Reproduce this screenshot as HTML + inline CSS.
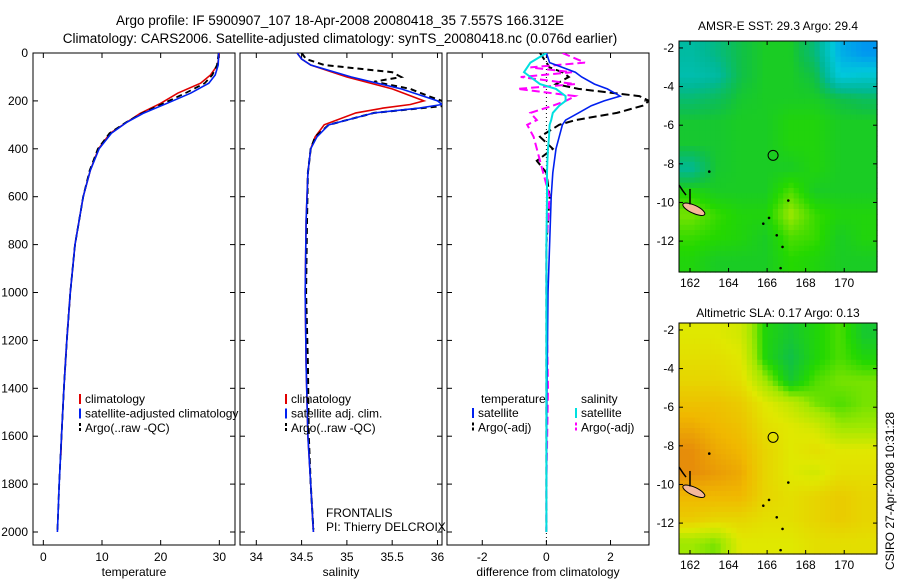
<!DOCTYPE html>
<html><head><meta charset="utf-8">
<style>
body{margin:0;background:#fff;}
svg{display:block;font-family:"Liberation Sans",sans-serif;}
text{font-size:12px;fill:#000;}
</style></head>
<body>
<svg id="fig" width="900" height="580" viewBox="0 0 900 580">
<text x="340" y="25" text-anchor="middle" style="font-size:13.5px">Argo profile: IF 5900907_107 18-Apr-2008 20080418_35 7.557S 166.312E</text>
<text x="340" y="43" text-anchor="middle" style="font-size:13.5px">Climatology: CARS2006. Satellite-adjusted climatology: synTS_20080418.nc (0.076d earlier)</text>
<text x="778" y="30" text-anchor="middle">AMSR-E SST: 29.3 Argo: 29.4</text>
<text x="778" y="317" text-anchor="middle">Altimetric SLA: 0.17 Argo: 0.13</text>
<text transform="translate(894,570) rotate(-90)">CSIRO 27-Apr-2008 10:31:28</text>
<g id="plots"></g>
</svg>
<script>
// ---- data ----
const depthT = [0,50,92,126,168,210,252,288,335,400,490,600,800,1000,1200,1400,1600,1680];
const climT  = [30.0,29.7,28.5,26.8,22.9,20,16.5,14.3,11.4,9.4,8,6.8,5.4,4.6,4.0,3.5,3.1,3.0];
const depthTs = [0,50,92,126,168,210,252,288,335,400,490,600,800,1000,1200,1400,1600,1800,2000];
const satT   = [29.9,29.8,29.3,28.2,25.1,21.1,17,14.3,11.6,9.5,8,6.8,5.4,4.6,4.0,3.5,3.1,2.7,2.4];
const argoT  = [29.9,29.6,28.8,27.5,24.2,20.5,16.8,14.2,11.3,9.3,7.9,6.8,5.4,4.6,4.0,3.5,3.1,2.7,2.4];
const depthS = [0,25,50,100,150,200,215,230,250,300,350,400,500,700,1000,1300,1600,1800,2000];
const climS  = [34.45,34.5,34.6,35.0,35.5,35.85,35.7,35.4,35.1,34.75,34.65,34.6,34.57,34.55,34.54,34.55,34.57,34.6,34.63];
const satS   = [34.45,34.5,34.6,35.05,35.6,36.0,36.05,35.8,35.3,34.8,34.67,34.6,34.57,34.55,34.54,34.55,34.57,34.6,34.63];
const depthSa= [0,25,50,80,100,120,150,180,200,220,250,300,350,400,500,700,1000,1300,1600,1800,1990];
const argoS  = [34.5,34.55,34.75,35.5,35.6,35.3,35.7,35.9,36.05,36.1,35.3,34.8,34.65,34.6,34.57,34.56,34.55,34.57,34.58,34.6,34.63];
const depthD = [0,40,60,80,100,130,150,180,200,220,250,280,300,350,400,450,500,600,800,1000,1400,1800,2000];
const diffTsat = [0,0.1,0.5,0.9,1.1,1.5,1.9,2.3,1.8,1.4,1.0,0.6,0.5,0.4,0.3,0.25,0.2,0.15,0.1,0.05,0.02,0,0];
const diffSsat = [0,-0.5,-0.6,-0.7,-0.5,-0.2,0.3,0.6,0.6,0.4,0.2,0.15,0.1,0.08,0.05,0.03,0.02,0.02,0,0,0,0,0];
const diffTargo = [-0.2,0,0.1,0.5,0.7,0.3,1.0,2.9,3.2,3.0,2.2,0.9,0.4,-0.2,0.2,-0.3,0,0.1,0,0,0,0,0];
const diffSargo = [0.5,1.2,-0.5,0.8,-0.8,0.9,-0.9,0.9,0.6,0.2,-0.5,-0.3,-0.6,-0.4,-0.3,-0.2,-0.1,0.1,0,0,0.05,0,0];
const depthTicks = [0,200,400,600,800,1000,1200,1400,1600,1800,2000];
const tTicks = [0,10,20,30];
const sTicks = [34,34.5,35,35.5,36];
const dTicks = [-2,0,2];
const lonTicks = [162,164,166,168,170];
const latTicks = [-2,-4,-6,-8,-10,-12];
const sstGrid = [
[.40,.44,.50,.53,.53,.45,.25,.2],
[.38,.40,.50,.53,.53,.50,.30,.32],
[.46,.48,.52,.53,.53,.53,.50,.48],
[.52,.52,.53,.53,.55,.55,.53,.53],
[.52,.52,.53,.53,.55,.55,.53,.53],
[.42,.52,.53,.53,.53,.55,.53,.53],
[.55,.53,.53,.53,.58,.53,.53,.53],
[.60,.57,.55,.55,.62,.57,.55,.55],
[.57,.56,.55,.53,.58,.57,.53,.55],
[.55,.53,.53,.53,.56,.55,.53,.53]];
const slaGrid = [
[.70,.70,.68,.55,.52,.55,.58,.52],
[.72,.72,.70,.55,.50,.55,.58,.55],
[.74,.74,.72,.62,.52,.58,.60,.60],
[.78,.78,.76,.70,.66,.60,.58,.60],
[.82,.80,.78,.72,.70,.68,.62,.62],
[.86,.82,.80,.74,.70,.72,.70,.70],
[.86,.84,.82,.74,.70,.68,.72,.72],
[.80,.80,.80,.74,.72,.74,.76,.74],
[.76,.74,.74,.72,.72,.74,.76,.74],
[.62,.60,.70,.70,.70,.72,.72,.72]];
const floatLon = [166.31];
const floatLat = [-7.56];

const NS="http://www.w3.org/2000/svg";
const root=document.getElementById('plots');
function mk(tag,attrs,parent){const e=document.createElementNS(NS,tag);for(const k in attrs)e.setAttribute(k,attrs[k]);(parent||root).appendChild(e);return e;}
function txt(x,y,s,anchor,parent){const t=mk('text',{x:x,y:y,'text-anchor':anchor||'start'},parent);t.textContent=s;return t;}

const Y0=53, Y1=545;
const yD=d=>53+d*0.2395;

function panel(name,x0,x1,xmin,xmax,ticks,label,showY){
  const g=mk('g',{});
  
  
  const sx=v=>x0+(v-xmin)/(xmax-xmin)*(x1-x0);
  mk('rect',{x:x0,y:Y0,width:x1-x0,height:Y1-Y0,fill:'#fff',stroke:'#000','stroke-width':1},g);
  ticks.forEach(v=>{const x=sx(v);mk('line',{x1:x,x2:x,y1:Y1,y2:Y1-5,stroke:'#000'},g);mk('line',{x1:x,x2:x,y1:Y0,y2:Y0+5,stroke:'#000'},g);
    const t=txt(x,Y1+16,String(v),'middle',g);});
  depthTicks.forEach(d=>{const y=yD(d);mk('line',{x1:x0,x2:x0+5,y1:y,y2:y,stroke:'#000'},g);mk('line',{x1:x1,x2:x1-5,y1:y,y2:y,stroke:'#000'},g);
    if(showY){const t=txt(x0-5,y+4,String(d),'end',g);}});
  const l=txt((x0+x1)/2,Y1+31,label,'middle',g);
  
  
  const clip='c'+name;
  const cp=mk('clipPath',{id:clip},g);mk('rect',{x:x0,y:Y0,width:x1-x0,height:Y1-Y0},cp);
  const lg=mk('g',{'clip-path':`url(#${clip})`},g);
  return {sx,g:lg,outer:g};
}
function line(p,xs,ds,color,dash,w,name){
  const pts=xs.map((v,i)=>p.sx(v).toFixed(1)+','+yD(ds[i]).toFixed(1)).join(' ');
  const e=mk('polyline',{points:pts,fill:'none',stroke:color,'stroke-width':w||1.5,'stroke-dasharray':dash||'none'},p.g);
  
  
}
function legend(parent,x,y,items){
  items.forEach((it,i)=>{
    const yy=y+i*14.5;
    mk('line',{x1:x,x2:x,y1:yy-9,y2:yy+1,stroke:it[1],'stroke-width':2,'stroke-dasharray':it[2]||'none'},parent);
    const t=txt(x+5,yy,it[0],'start',parent);
    
    
  });
}
// panel 1 temperature (0 at x=43.3, 30 at x=218.8)
const p1=panel('temperature-panel',33,235,-1.76,32.67,tTicks,'temperature',true);
line(p1,climT,depthT,'#e00000',null,1.6,'temp-climatology-line');
line(p1,argoT,depthTs,'#000','6,4',1.8,'temp-argo-line');
line(p1,satT,depthTs,'#0020f0',null,1.6,'temp-satellite-line');
legend(p1.outer,80,403,[['climatology','#e00000'],['satellite-adjusted climatology','#0020f0'],['Argo(..raw -QC)','#000','3,2']]);
// panel 2 salinity
const p2=panel('salinity-panel',240,442,33.82,36.05,sTicks,'salinity',false);
line(p2,climS,depthS,'#e00000',null,1.6,'sal-climatology-line');
line(p2,argoS,depthSa,'#000','6,4',2,'sal-argo-line');
line(p2,satS,depthS,'#0020f0',null,1.6,'sal-satellite-line');
legend(p2.outer,286,403,[['climatology','#e00000'],['satellite adj. clim.','#0020f0'],['Argo(..raw -QC)','#000','3,2']]);
txt(326,517,'FRONTALIS','start',p2.outer);
txt(326,531,'PI: Thierry DELCROIX','start',p2.outer);
// panel 3 differences
const p3=panel('difference-panel',447,649,-3.1,3.2,dTicks,'difference from climatology',false);
mk('line',{x1:p3.sx(0),x2:p3.sx(0),y1:Y0,y2:Y1,stroke:'#000','stroke-dasharray':'1,3'},p3.g);
line(p3,diffTargo,depthD,'#000','8,4',2,'diff-temp-argo-line');
line(p3,diffSargo,depthD,'#ff00ff','8,4',2,'diff-sal-argo-line');
line(p3,diffTsat.slice(0,22),depthD.slice(0,22),'#0020f0',null,1.6,'diff-temp-satellite-line');
line(p3,diffSsat,depthD,'#00e0e0',null,2,'diff-sal-satellite-line');
txt(481,403,'temperature','start',p3.outer);
txt(581,403,'salinity','start',p3.outer);
legend(p3.outer,473,417,[['satellite','#0020f0'],['Argo(-adj)','#000','3,2']]);
legend(p3.outer,576,417,[['satellite','#00e0e0'],['Argo(-adj)','#ff00ff','3,2']]);

// maps
const stops=[[0,[0,80,255]],[0.2,[0,150,240]],[0.3,[0,200,220]],[0.42,[0,184,150]],[0.5,[16,192,72]],[0.56,[36,216,0]],[0.62,[160,232,0]],[0.7,[224,232,0]],[0.8,[240,184,0]],[0.9,[224,112,16]]];
function cmap(v){for(let i=1;i<stops.length;i++){if(v<=stops[i][0]){const a=stops[i-1],b=stops[i],t=(v-a[0])/(b[0]-a[0]);return 'rgb('+a[1].map((c,k)=>Math.round(c+(b[1][k]-c)*t)).join(',')+')';}}return 'rgb(224,112,16)';}
function mapPanel(name,y0,grid){
  const x0=679,x1=877,y1=y0+231;
  const g=mk('g',{});
  
  
  const lon0=161.43,lon1=171.7,lat0=-1.64,lat1=-13.6;
  const sx=v=>x0+(v-lon0)/(lon1-lon0)*(x1-x0);
  const sy=v=>y0+(v-lat0)/(lat1-lat0)*(y1-y0);
  const R=grid.length,C=grid[0].length,nr=44,nc=38;
  const cw=(x1-x0)/nc,ch=(y1-y0)/nr;
  for(let i=0;i<nr;i++)for(let j=0;j<nc;j++){
    const fr=Math.min(R-1.001,Math.max(0,(i+0.5)/nr*R-0.5)),fc=Math.min(C-1.001,Math.max(0,(j+0.5)/nc*C-0.5));
    const r=Math.floor(fr),c=Math.floor(fc),tr=fr-r,tc=fc-c;
    const v=grid[r][c]*(1-tr)*(1-tc)+grid[r+1][c]*tr*(1-tc)+grid[r][c+1]*(1-tr)*tc+grid[r+1][c+1]*tr*tc;
    mk('rect',{x:(x0+j*cw).toFixed(2),y:(y0+i*ch).toFixed(2),width:(cw+0.6).toFixed(2),height:(ch+0.6).toFixed(2),fill:cmap(v)},g);
  }
  mk('ellipse',{cx:sx(162.2),cy:sy(-10.35),rx:12,ry:4,fill:'#f5b89a',stroke:'#000',transform:`rotate(25 ${sx(162.2)} ${sy(-10.35)})`},g);
  mk('path',{d:`M${x0} ${sy(-9.1)} l4 6 l3 4`,stroke:'#000',fill:'none','stroke-width':1.5},g);
  mk('line',{x1:sx(162.0),x2:sx(162.0),y1:sy(-9.3),y2:sy(-10.1),stroke:'#000','stroke-width':1.5},g);
  [[165.8,-11.1],[166.1,-10.8],[166.5,-11.7],[166.8,-12.3],[167.1,-9.9],[166.7,-13.4],[163,-8.4]].forEach(p=>mk('circle',{cx:sx(p[0]),cy:sy(p[1]),r:1.3,fill:'#000'},g));
  floatLon.forEach((lo,i)=>{const c=mk('circle',{cx:sx(lo),cy:sy(floatLat[i]),r:5,fill:'none',stroke:'#000'},g);});
  mk('rect',{x:x0,y:y0,width:x1-x0,height:y1-y0,fill:'none',stroke:'#000'},g);
  lonTicks.forEach(v=>{const x=sx(v);mk('line',{x1:x,x2:x,y1:y1,y2:y1-4,stroke:'#000'},g);mk('line',{x1:x,x2:x,y1:y0,y2:y0+4,stroke:'#000'},g);
    const t=txt(x,y1+15,String(v),'middle',g);});
  latTicks.forEach(v=>{const y=sy(v);mk('line',{x1:x0,x2:x0+4,y1:y,y2:y,stroke:'#000'},g);mk('line',{x1:x1,x2:x1-4,y1:y,y2:y,stroke:'#000'},g);
    const t=txt(x0-5,y+4,String(v),'end',g);});
}
mapPanel('sst-map',41,sstGrid);
mapPanel('sla-map',323,slaGrid);
</script>
</body></html>
